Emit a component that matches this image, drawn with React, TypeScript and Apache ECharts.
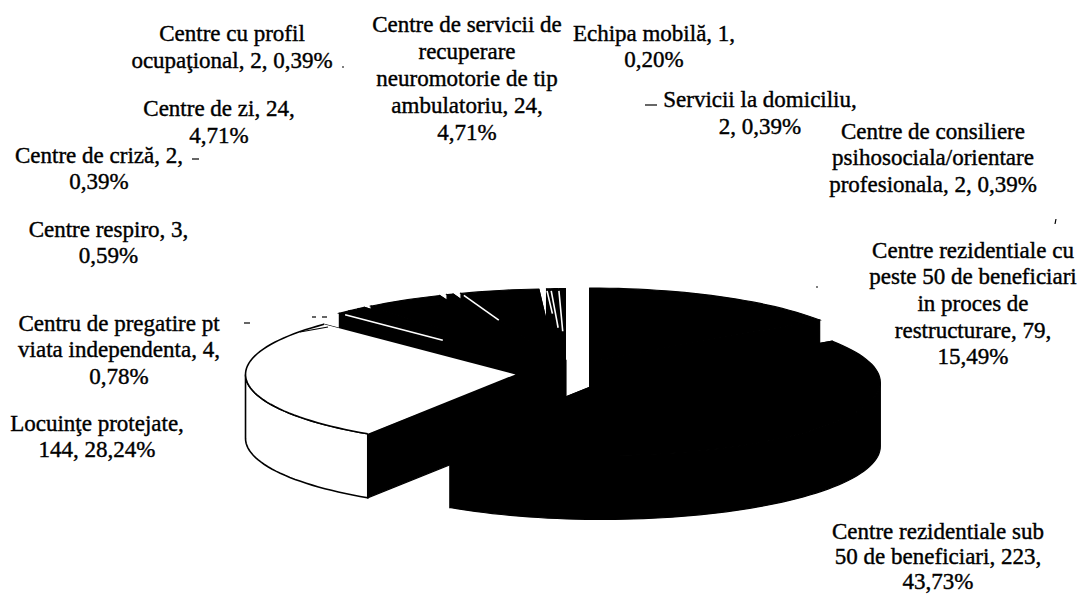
import React, { useEffect, useRef } from "react";
import * as echarts from "echarts";

const categories = [
  "Centre rezidentiale cu peste 50 de beneficiari in proces de restructurare",
  "Centre rezidentiale sub 50 de beneficiari",
  "Locuinţe protejate",
  "Centru de pregatire pt viata independenta",
  "Centre respiro",
  "Centre de criză",
  "Centre de zi",
  "Centre cu profil ocupaţional",
  "Centre de servicii de recuperare neuromotorie de tip ambulatoriu",
  "Echipa mobilă",
  "Servicii la domiciliu",
  "Centre de consiliere psihosociala/orientare profesionala",
];
const values = [79, 223, 144, 4, 3, 2, 24, 2, 24, 1, 2, 2];
const labelLines = [
  ["Centre rezidentiale cu", "peste 50 de beneficiari", "in proces de", "restructurare, 79,", "15,49%"],
  ["Centre rezidentiale sub", "50 de beneficiari, 223,", "43,73%"],
  ["Locuinţe protejate,", "144, 28,24%"],
  ["Centru de pregatire pt", "viata independenta, 4,", "0,78%"],
  ["Centre respiro, 3,", "0,59%"],
  ["Centre de criză, 2,", "0,39%"],
  ["Centre de zi, 24,", "4,71%"],
  ["Centre cu profil", "ocupaţional, 2, 0,39%"],
  ["Centre de servicii de", "recuperare", "neuromotorie de tip", "ambulatoriu, 24,", "4,71%"],
  ["Echipa mobilă, 1,", "0,20%"],
  ["Servicii la domiciliu,", "2, 0,39%"],
  ["Centre de consiliere", "psihosociala/orientare", "profesionala, 2, 0,39%"],
];

// Layout (not data)
const labelAnchors: [number, number][] = [
  [973, 250], [938, 531], [97, 423], [119, 323], [108.5, 229], [99, 155],
  [219, 108], [232, 33], [467, 24], [654, 33], [760, 99], [933, 131],
];
const labelLineHeights = [26.7, 25, 26.7, 26.7, 26.7, 26.7, 27.5, 27.5, 27, 26.7, 27, 26.7];
const drawOrder = [3, 4, 5, 6, 7, 8, 9, 10, 11, 0, 2, 1];
const radiusScale = [1.03, 1.03, 1, 1, 1, 1, 1, 1, 1, 1, 1, 1];
const seamReach = [0, 0, 0, 0.46, 0, 0, 0, 0, 0.6, 0.65, 0.45, 0.4];
const CX = 566, CY = 373, RX = 270, RY = 71, DEPTH = 64, EXPLODE = 0.188;
const FONT = "Liberation Serif";

const total = values.reduce((a, b) => a + b, 0);

function arc(ax: number, ay: number, rx: number, ry: number, a: number, b: number, dy = 0) {
  const pts: number[][] = [];
  const n = Math.max(2, Math.ceil((b - a) / 2));
  for (let i = 0; i <= n; i++) {
    const t = ((a + ((b - a) * i) / n) * Math.PI) / 180;
    pts.push([ax + rx * Math.sin(t), ay - ry * Math.cos(t) + dy]);
  }
  return pts;
}

function renderSlice(params: any, api: any) {
  const i = params.dataIndex;
  const before = values.slice(0, i).reduce((a, b) => a + b, 0);
  const a = (before / total) * 360;
  const b = ((before + (api.value(0) as number)) / total) * 360;
  const mid = (((a + b) / 2) * Math.PI) / 180;
  const ax = CX + EXPLODE * RX * Math.sin(mid);
  const ay = CY - EXPLODE * RY * Math.cos(mid);
  const rx = RX * radiusScale[i];
  const ry = RY * radiusScale[i];
  const z = drawOrder.indexOf(i) * 10 + 1;
  const isLight = i === 2;
  const children: any[] = [];
  const blackEdge = { stroke: "#000", lineWidth: 1.2 };
  const cut = (deg: number) => {
    const [rim] = arc(ax, ay, rx, ry, deg, deg);
    return {
      type: "polygon",
      z2: z,
      shape: { points: [[ax, ay], rim, [rim[0], rim[1] + DEPTH], [ax, ay + DEPTH]] },
      style: { fill: "#000", ...blackEdge },
    };
  };
  children.push(cut(a), cut(b));
  if (i === values.length - 1) {
    // back-fill behind the hub of the small rear slices
    const right = ax + 1.2;
    children.push({
      type: "polygon",
      z2: z,
      shape: { points: [[right, ay], [right - 60, ay], [right - 60, ay + DEPTH], [right, ay + DEPTH]] },
      style: { fill: "#000" },
    });
  }
  const fa = Math.max(a, 90), fb = Math.min(b, 270);
  if (fb > fa) {
    const top = arc(ax, ay, rx, ry, fa, fb);
    const bot = arc(ax, ay, rx, ry, fa, fb, DEPTH).reverse();
    children.push({
      type: "polygon",
      z2: z + 1,
      shape: { points: [...top, ...bot] },
      style: isLight ? { fill: "#fff", stroke: "#000", lineWidth: 1.6 } : { fill: "#000", ...blackEdge },
    });
  }
  children.push({
    type: "polygon",
    z2: z + 2,
    shape: { points: [[ax, ay], ...arc(ax, ay, rx, ry, a, b)] },
    style: isLight ? { fill: "#fff" } : { fill: "#000", ...blackEdge },
  });
  if (isLight) {
    children.push({
      type: "polyline",
      z2: z + 3,
      shape: { points: arc(ax, ay, rx, ry, a, b) },
      style: { fill: "none", stroke: "#000", lineWidth: 1.6 },
    });
  }
  if (seamReach[i] > 0) {
    const [rim] = arc(ax, ay, rx, ry, a, a);
    const f = seamReach[i];
    children.push({
      type: "line",
      z2: 500,
      shape: {
        x1: ax + (rim[0] - ax) * 0.97,
        y1: ay + (rim[1] - ay) * 0.97,
        x2: ax + (rim[0] - ax) * f,
        y2: ay + (rim[1] - ay) * f,
      },
      style: { stroke: "#fff", lineWidth: 1.6 },
    });
  }
  return { type: "group", children };
}

export default function App() {
  const ref = useRef<HTMLDivElement>(null);
  useEffect(() => {
    if (!ref.current) return;
    const chart = echarts.init(ref.current, undefined, { renderer: "svg" });
    const texts = labelLines.map((lines, i) => ({
      type: "text",
      z: 10,
      style: {
        text: lines.join("\n"),
        x: labelAnchors[i][0],
        y: labelAnchors[i][1] - labelLineHeights[i] / 2,
        align: "center",
        verticalAlign: "top",
        fontFamily: FONT,
        fontSize: 23,
        lineHeight: labelLineHeights[i],
        fill: "#000",
        stroke: "#000",
        lineWidth: 0.4,
      },
    }));
    const dashes = [
      [192, 159, 199, 159],
      [645, 105, 657, 105],
      [300, 332, 328, 327],
      [244, 323, 250, 323],
      [312, 317, 316, 317],
      [322, 317, 327, 317],
      [342, 67, 344, 67],
      [1056, 219, 1055, 224],
      [816, 287, 818, 287],
    ].map(([x1, y1, x2, y2]) => ({
      type: "line",
      z: 10,
      shape: { x1, y1, x2, y2 },
      style: { stroke: "#000", lineWidth: 1.2 },
    }));
    chart.setOption({
      animation: false,
      backgroundColor: "#fff",
      graphic: { elements: [...texts, ...dashes] },
      series: [
        {
          type: "custom",
          coordinateSystem: "none",
          silent: true,
          clip: false,
          renderItem: renderSlice,
          data: values.map((v, i) => ({ name: categories[i], value: [v] })),
        },
      ],
    });
    return () => chart.dispose();
  }, []);
  return (
    <div
      ref={ref}
      style={{ position: "absolute", left: 0, top: 0, width: 1080, height: 594 }}
    />
  );
}
